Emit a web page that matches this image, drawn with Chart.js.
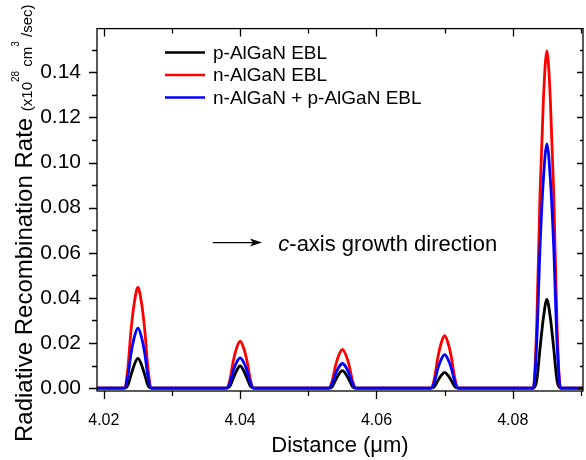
<!DOCTYPE html>
<html>
<head>
<meta charset="UTF-8">
<title>Radiative Recombination Rate</title>
<style>
body {
	margin: 0;
	background-color: #ffffff;
}
#wrap {
	width: 586px;
	height: 460px;
}
</style>
<script src="https://cdn.jsdelivr.net/npm/chart.js"></script>
<script>
// distance along the structure (um)
var distances = [4.019,
    4.023, 4.0235, 4.024, 4.0245, 4.025, 4.0255, 4.026, 4.0265, 4.027,
    4.038, 4.0385, 4.039, 4.0395, 4.04, 4.0405, 4.041, 4.0415, 4.042,
    4.053, 4.0535, 4.054, 4.0545, 4.055, 4.0555, 4.056, 4.0565, 4.057,
    4.068, 4.0685, 4.069, 4.0695, 4.07, 4.0705, 4.071, 4.0715, 4.072,
    4.083, 4.0835, 4.084, 4.0845, 4.085, 4.0855, 4.086, 4.0865, 4.087,
    4.0905];

// radiative recombination rate (x10^28 cm^3/sec)
var pEbl = [0,
    0, 0.0011, 0.0059, 0.0106, 0.0132, 0.0106, 0.0059, 0.0011, 0,
    0, 0.0008, 0.0044, 0.0078, 0.0098, 0.0078, 0.0044, 0.0008, 0,
    0, 0.0006, 0.0035, 0.0062, 0.0077, 0.0062, 0.0035, 0.0006, 0,
    0, 0.0006, 0.0032, 0.0056, 0.0070, 0.0056, 0.0032, 0.0006, 0,
    0, 0.0031, 0.0177, 0.0314, 0.0393, 0.0314, 0.0177, 0.0031, 0,
    0];
var nEbl = [0,
    0, 0.0080, 0.0259, 0.0384, 0.0446, 0.0384, 0.0259, 0.0080, 0,
    0, 0.0037, 0.0121, 0.0179, 0.0208, 0.0179, 0.0121, 0.0037, 0,
    0, 0.0031, 0.0100, 0.0148, 0.0172, 0.0148, 0.0100, 0.0031, 0,
    0, 0.0042, 0.0135, 0.0200, 0.0232, 0.0200, 0.0135, 0.0042, 0,
    0, 0.0269, 0.0867, 0.1286, 0.1495, 0.1286, 0.0867, 0.0269, 0,
    0];
var npEbl = [0,
    0, 0.0048, 0.0154, 0.0229, 0.0266, 0.0229, 0.0154, 0.0048, 0,
    0, 0.0024, 0.0078, 0.0115, 0.0134, 0.0115, 0.0078, 0.0024, 0,
    0, 0.0020, 0.0063, 0.0094, 0.0109, 0.0094, 0.0063, 0.0020, 0,
    0, 0.0027, 0.0086, 0.0127, 0.0148, 0.0127, 0.0086, 0.0027, 0,
    0, 0.0195, 0.0628, 0.0931, 0.1083, 0.0931, 0.0628, 0.0195, 0,
    0];

var seriesLabels = ['p-AlGaN EBL', 'n-AlGaN EBL', 'n-AlGaN + p-AlGaN EBL'];

var xMajor = [4.02, 4.04, 4.06, 4.08];
var xMinor = [4.03, 4.05, 4.07, 4.09];
var yMajor = [0, 0.02, 0.04, 0.06, 0.08, 0.10, 0.12, 0.14];
var yMinor = [0.01, 0.03, 0.05, 0.07, 0.09, 0.11, 0.13, 0.15];

var FONT = "'Liberation Sans', Arial, sans-serif";

function toPoints(ys) {
    return distances.map(function (d, i) { return { x: d, y: ys[i] }; });
}

// frame, mirrored ticks, legend, titles and the growth-direction note
var decorations = {
    id: 'decorations',
    afterDraw: function (chart) {
        var ctx = chart.ctx;
        var a = chart.chartArea;
        var xs = chart.scales.x;
        var ys = chart.scales.y;
        ctx.save();
        ctx.strokeStyle = '#000';
        ctx.lineWidth = 1.3;
        ctx.strokeRect(a.left, a.top, a.right - a.left, a.bottom - a.top);

        ctx.beginPath();
        xMajor.concat(xMinor).forEach(function (v) {
            var px = Math.round(xs.getPixelForValue(v)) + 0.5;
            var len = xMajor.indexOf(v) >= 0 ? 8 : 5;
            ctx.moveTo(px, a.bottom); ctx.lineTo(px, a.bottom + len);
            ctx.moveTo(px, a.top); ctx.lineTo(px, a.top + len);
        });
        yMajor.concat(yMinor).forEach(function (v) {
            var py = Math.round(ys.getPixelForValue(v)) + 0.5;
            var len = yMajor.indexOf(v) >= 0 ? 8 : 5;
            ctx.moveTo(a.left, py); ctx.lineTo(a.left - len, py);
            ctx.moveTo(a.right, py); ctx.lineTo(a.right - len + 2, py);
        });
        ctx.stroke();

        // legend
        ctx.font = '19px ' + FONT;
        ctx.textBaseline = 'middle';
        ctx.textAlign = 'left';
        chart.data.datasets.forEach(function (ds, i) {
            var y = a.top + 24 + i * 22.5;
            ctx.strokeStyle = ds.borderColor;
            ctx.lineWidth = 2.5;
            ctx.beginPath();
            ctx.moveTo(a.left + 68, y);
            ctx.lineTo(a.left + 108, y);
            ctx.stroke();
            ctx.fillStyle = '#000';
            ctx.fillText(ds.label, a.left + 116, y + 1);
        });

        // annotation
        var ax0 = xs.getPixelForValue(4.036);
        var ax1 = xs.getPixelForValue(4.0432);
        var ay = ys.getPixelForValue(0.0645);
        ctx.strokeStyle = '#000';
        ctx.fillStyle = '#000';
        ctx.lineWidth = 1.3;
        ctx.beginPath();
        ctx.moveTo(ax0, ay); ctx.lineTo(ax1 - 6, ay);
        ctx.stroke();
        ctx.beginPath();
        ctx.moveTo(ax1, ay);
        ctx.lineTo(ax1 - 12, ay - 4);
        ctx.lineTo(ax1 - 9, ay);
        ctx.lineTo(ax1 - 12, ay + 4);
        ctx.closePath();
        ctx.fill();
        var tx = xs.getPixelForValue(4.0456);
        ctx.textBaseline = 'alphabetic';
        ctx.font = 'italic 22px ' + FONT;
        ctx.fillText('c', tx, ay + 8);
        var cw = ctx.measureText('c').width;
        ctx.font = '22px ' + FONT;
        ctx.fillText('-axis growth direction', tx + cw, ay + 8);

        // x title
        ctx.textAlign = 'center';
        ctx.font = '22px ' + FONT;
        ctx.fillText('Distance (\u03bcm)', (a.left + a.right) / 2, 452);

        // y title
        ctx.translate(32, 442);
        ctx.rotate(-Math.PI / 2);
        ctx.textAlign = 'left';
        ctx.font = '24px ' + FONT;
        var main = 'Radiative Recombination Rate ';
        ctx.fillText(main, 0, 0);
        var x = ctx.measureText(main).width;
        var parts = [['(x10', 15, 0], ['28', 10, -13], [' cm', 15, 0], ['3', 10, -13], [' /sec)', 15, 0]];
        parts.forEach(function (p) {
            ctx.font = p[1] + 'px ' + FONT;
            ctx.fillText(p[0], x, p[2]);
            x += ctx.measureText(p[0]).width;
        });
        ctx.restore();
    }
};

document.addEventListener("DOMContentLoaded", function () {
    var ctx = document.getElementById('rateChart').getContext('2d');
    new Chart(ctx, {
        type: 'line',
        data: {
            datasets: [{
                label: seriesLabels[0],
                data: toPoints(pEbl),
                borderColor: '#000000',
                order: 3
            }, {
                label: seriesLabels[1],
                data: toPoints(nEbl),
                borderColor: '#ff0000',
                order: 2
            }, {
                label: seriesLabels[2],
                data: toPoints(npEbl),
                borderColor: '#0000ff',
                order: 1
            }]
        },
        options: {
            responsive: false,
            animation: false,
            events: [],
            layout: { padding: { top: 10, right: 3, left: 0, bottom: 0 } },
            elements: {
                point: { radius: 0 },
                line: { borderWidth: 2.8, cubicInterpolationMode: 'monotone', fill: false }
            },
            plugins: { legend: { display: false }, tooltip: { enabled: false } },
            scales: {
                x: {
                    type: 'linear',
                    min: 4.019,
                    max: 4.0903,
                    grid: { display: false, drawTicks: false },
                    border: { display: false },
                    afterBuildTicks: function (s) { s.ticks = xMajor.map(function (v) { return { value: v }; }); },
                    afterFit: function (s) { s.height = 69; },
                    ticks: {
                        color: '#000',
                        padding: 20,
                        maxRotation: 0,
                        font: { family: FONT, size: 16 },
                        callback: function (v) { return v.toFixed(2); }
                    }
                },
                y: {
                    min: -0.0013,
                    max: 0.1594,
                    grid: { display: false, drawTicks: false },
                    border: { display: false },
                    afterBuildTicks: function (s) { s.ticks = yMajor.map(function (v) { return { value: v }; }); },
                    afterFit: function (s) { s.width = 97; },
                    ticks: {
                        color: '#000',
                        padding: 16,
                        font: { family: FONT, size: 21 },
                        callback: function (v) { return v.toFixed(2); }
                    }
                }
            }
        },
        plugins: [decorations]
    });
});
</script>
</head>
<body>
	<div id="wrap">
		<canvas id="rateChart" width="586" height="460"></canvas>
	</div>
</body>
</html>
